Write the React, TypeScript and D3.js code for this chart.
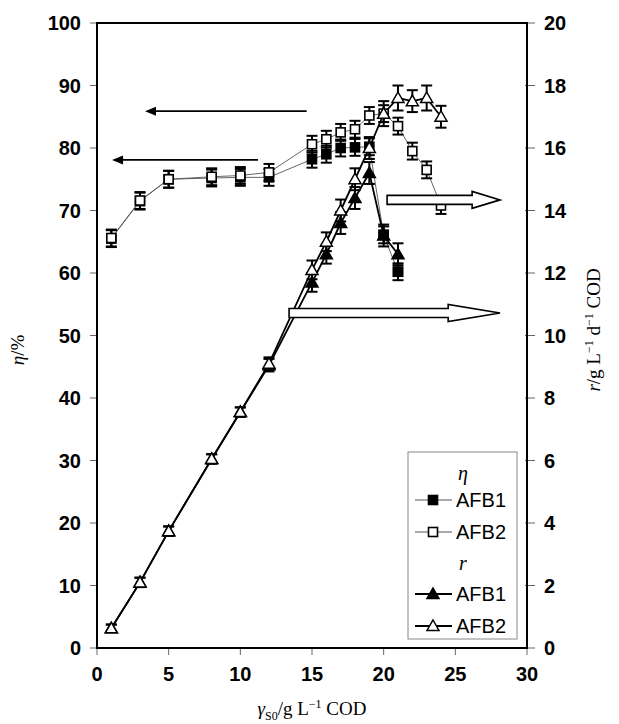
import React from "react";
import * as d3 from "d3";

const xAFB1 = [1, 3, 5, 8, 10, 12, 15, 16, 17, 18, 19, 20, 21];
const etaAFB1 = [65.5, 71.5, 75.0, 75.2, 75.3, 75.3, 78.2, 79.0, 80.0, 80.1, 80.2, 66.1, 60.2];
const rAFB1 = [0.63, 2.1, 3.74, 6.05, 7.55, 9.05, 11.7, 12.6, 13.6, 14.4, 15.2, 13.2, 12.6];
const rErrAFB1 = [0.12, 0.15, 0.15, 0.15, 0.15, 0.2, 0.3, 0.3, 0.35, 0.35, 0.35, 0.35, 0.35];

const xAFB2 = [1, 3, 5, 8, 10, 12, 15, 16, 17, 18, 19, 20, 21, 22, 23, 24];
const etaAFB2 = [65.6, 71.6, 75.0, 75.4, 75.6, 76.1, 80.6, 81.4, 82.5, 83.0, 85.2, 85.5, 83.5, 79.5, 76.5, 70.8];
const rAFB2 = [0.63, 2.1, 3.74, 6.05, 7.55, 9.1, 12.1, 13.0, 14.0, 15.0, 16.0, 17.1, 17.6, 17.5, 17.6, 17.0];
const rErrAFB2 = [0.12, 0.15, 0.15, 0.15, 0.15, 0.2, 0.3, 0.3, 0.35, 0.35, 0.35, 0.4, 0.4, 0.35, 0.4, 0.35];

const etaErr = 1.35;

const xTicks = [0, 5, 10, 15, 20, 25, 30];
const leftTicks = [0, 10, 20, 30, 40, 50, 60, 70, 80, 90, 100];
const rightTicks = [0, 2, 4, 6, 8, 10, 12, 14, 16, 18, 20];

// annotation arrows in data units: [xStart, xEnd, etaLevel]
const lineArrows = [
  [14.63, 3.35, 85.9],
  [11.23, 1.05, 78.1],
];
// block arrows: [xStart, xHeadStart, xTip, etaLevel]
const blockArrows = [
  [20.24, 26.17, 28.12, 71.7],
  [13.4, 24.5, 28.12, 53.6],
];

const W = 619;
const H = 724;
const L = 97, R = 527, T = 23, B = 648;

const x = d3.scaleLinear().domain([0, 30]).range([L, R]);
const yL = d3.scaleLinear().domain([0, 100]).range([B, T]);
const yR = d3.scaleLinear().domain([0, 20]).range([B, T]);

const sans = "'Liberation Sans', Arial, sans-serif";
const serif = "'Liberation Serif', 'Times New Roman', serif";

function Square({ cx, cy, filled }: { cx: number; cy: number; filled: boolean }) {
  const s = 9;
  return <rect x={cx - s / 2} y={cy - s / 2} width={s} height={s} fill={filled ? "#000" : "#fff"} stroke="#000" strokeWidth={1.6} />;
}
function Tri({ cx, cy, filled }: { cx: number; cy: number; filled: boolean }) {
  const p = `${cx},${cy - 6} ${cx + 6},${cy + 4.5} ${cx - 6},${cy + 4.5}`;
  return <polygon points={p} fill={filled ? "#000" : "#fff"} stroke="#000" strokeWidth={1.5} strokeLinejoin="miter" />;
}
function ErrBar({ cx, y1, y2 }: { cx: number; y1: number; y2: number }) {
  const c = 5.5;
  return (
    <g stroke="#000" strokeWidth={2}>
      <line x1={cx} x2={cx} y1={y1} y2={y2} />
      <line x1={cx - c} x2={cx + c} y1={y1} y2={y1} />
      <line x1={cx - c} x2={cx + c} y1={y2} y2={y2} />
    </g>
  );
}

export default function App() {
  const lineEta = d3.line<[number, number]>().x((d) => x(d[0])).y((d) => yL(d[1]));
  const lineR = d3.line<[number, number]>().x((d) => x(d[0])).y((d) => yR(d[1]));
  const e1 = xAFB1.map((v, i) => [v, etaAFB1[i]] as [number, number]);
  const e2 = xAFB2.map((v, i) => [v, etaAFB2[i]] as [number, number]);
  const r1 = xAFB1.map((v, i) => [v, rAFB1[i]] as [number, number]);
  const r2 = xAFB2.map((v, i) => [v, rAFB2[i]] as [number, number]);

  const lgX = 408, lgY = 452, lgW = 109, lgH = 187;
  const rowY = [473, 500, 532, 563, 594, 626];

  return (
    <svg width={W} height={H} style={{ position: "absolute", left: 0, top: 0, background: "#fff" }}>
      <rect x={0} y={0} width={W} height={H} fill="#fff" />
      {/* ticks */}
      {leftTicks.map((t) => (
        <g key={"l" + t}>
          <line x1={L - 7} x2={L} y1={yL(t)} y2={yL(t)} stroke="#666" strokeWidth={1} />
          <text x={L - 16} y={yL(t)} dy="0.36em" textAnchor="end" fontFamily={sans} fontWeight="bold" fontSize={20}>{t}</text>
        </g>
      ))}
      {rightTicks.map((t) => (
        <g key={"r" + t}>
          <line x1={R - 2} x2={R + 8} y1={yR(t)} y2={yR(t)} stroke="#666" strokeWidth={1} />
          <text x={R + 17} y={yR(t)} dy="0.36em" textAnchor="start" fontFamily={sans} fontWeight="bold" fontSize={20}>{t}</text>
        </g>
      ))}
      {xTicks.map((t) => (
        <g key={"x" + t}>
          <line x1={x(t)} x2={x(t)} y1={B} y2={B + 7} stroke="#666" strokeWidth={1} />
          <text x={x(t)} y={B + 33} textAnchor="middle" fontFamily={sans} fontWeight="bold" fontSize={20}>{t}</text>
        </g>
      ))}
      {/* frame */}
      <rect x={L} y={T} width={R - L} height={B - T} fill="none" stroke="#000" strokeWidth={2} />

      {/* eta lines */}
      <path d={lineEta(e1) || ""} fill="none" stroke="#555" strokeWidth={0.9} />
      <path d={lineEta(e2) || ""} fill="none" stroke="#555" strokeWidth={0.9} />
      {/* r lines */}
      <path d={lineR(r1) || ""} fill="none" stroke="#000" strokeWidth={1.8} />
      <path d={lineR(r2) || ""} fill="none" stroke="#000" strokeWidth={1.8} />

      {/* eta AFB1 */}
      {e1.map((d, i) => (
        <g key={"e1" + i}>
          <ErrBar cx={x(d[0])} y1={yL(d[1] + etaErr)} y2={yL(d[1] - etaErr)} />
          <Square cx={x(d[0])} cy={yL(d[1])} filled={true} />
        </g>
      ))}
      {/* eta AFB2 */}
      {e2.map((d, i) => (
        <g key={"e2" + i}>
          <ErrBar cx={x(d[0])} y1={yL(d[1] + etaErr)} y2={yL(d[1] - etaErr)} />
          <Square cx={x(d[0])} cy={yL(d[1])} filled={false} />
        </g>
      ))}
      {/* r AFB1 */}
      {r1.map((d, i) => (
        <g key={"r1" + i}>
          <ErrBar cx={x(d[0])} y1={yR(d[1] + rErrAFB1[i])} y2={yR(d[1] - rErrAFB1[i])} />
          <Tri cx={x(d[0])} cy={yR(d[1])} filled={true} />
        </g>
      ))}
      {/* r AFB2 */}
      {r2.map((d, i) => (
        <g key={"r2" + i}>
          <ErrBar cx={x(d[0])} y1={yR(d[1] + rErrAFB2[i])} y2={yR(d[1] - rErrAFB2[i])} />
          <Tri cx={x(d[0])} cy={yR(d[1])} filled={false} />
        </g>
      ))}
      {/* filled squares after eta drop drawn on top of r line */}
      {e1.slice(11).map((d, i) => (
        <Square key={"e1t" + i} cx={x(d[0])} cy={yL(d[1])} filled={true} />
      ))}

      {/* line arrows */}
      {lineArrows.map((a, i) => {
        const xs = x(a[0]), xe = x(a[1]), yy = yL(a[2]);
        return (
          <g key={"la" + i}>
            <line x1={xs} x2={xe + 8} y1={yy} y2={yy} stroke="#000" strokeWidth={1.6} />
            <polygon points={`${xe},${yy} ${xe + 11},${yy - 4.5} ${xe + 11},${yy + 4.5}`} fill="#000" />
          </g>
        );
      })}
      {/* block arrows */}
      {blockArrows.map((a, i) => {
        const xs = x(a[0]), xh = x(a[1]), xt = x(a[2]), yy = yL(a[3]);
        const bh = 4.5, hh = 8.5;
        const p = `M${xs},${yy - bh} L${xh},${yy - bh} L${xh},${yy - hh} L${xt},${yy} L${xh},${yy + hh} L${xh},${yy + bh} L${xs},${yy + bh} Z`;
        return <path key={"ba" + i} d={p} fill="#fff" stroke="#000" strokeWidth={1.6} strokeLinejoin="miter" />;
      })}

      {/* legend */}
      <rect x={lgX} y={lgY} width={lgW} height={lgH} fill="#fff" stroke="#888" strokeWidth={1} />
      <text x={463} y={rowY[0]} dy="0.35em" textAnchor="middle" fontFamily={serif} fontStyle="italic" fontSize={20}>η</text>
      <text x={463} y={rowY[3]} dy="0.35em" textAnchor="middle" fontFamily={serif} fontStyle="italic" fontSize={20}>r</text>
      {[
        { y: rowY[1], kind: "sq", filled: true, w: 1.0, c: "#555" },
        { y: rowY[2], kind: "sq", filled: false, w: 1.0, c: "#555" },
        { y: rowY[4], kind: "tri", filled: true, w: 1.8, c: "#000" },
        { y: rowY[5], kind: "tri", filled: false, w: 1.8, c: "#000" },
      ].map((row, i) => (
        <g key={"lg" + i}>
          <line x1={415} x2={452} y1={row.y} y2={row.y} stroke={row.c} strokeWidth={row.w} />
          {row.kind === "sq" ? <Square cx={433} cy={row.y} filled={row.filled} /> : <Tri cx={433} cy={row.y} filled={row.filled} />}
          <text x={456} y={row.y} dy="0.36em" fontFamily={sans} fontSize={20}>{i % 2 === 0 ? "AFB1" : "AFB2"}</text>
        </g>
      ))}

      {/* axis titles */}
      <text transform={`translate(24,350) rotate(-90)`} textAnchor="middle" fontFamily={serif} fontSize={19}>
        <tspan fontStyle="italic">η</tspan>/%
      </text>
      <text transform={`translate(600,330) rotate(-90)`} textAnchor="middle" fontFamily={serif} fontSize={19}>
        <tspan fontStyle="italic">r</tspan>/g L<tspan dy="-7" fontSize={12}>−1</tspan><tspan dy="7"> d</tspan><tspan dy="-7" fontSize={12}>−1</tspan><tspan dy="7"> COD</tspan>
      </text>
      <text x={312} y={715} textAnchor="middle" fontFamily={serif} fontSize={19}>
        <tspan fontStyle="italic">γ</tspan><tspan dy="5" fontSize={12}>S0</tspan><tspan dy="-5">/g L</tspan><tspan dy="-7" fontSize={12}>−1</tspan><tspan dy="7"> COD</tspan>
      </text>
    </svg>
  );
}
